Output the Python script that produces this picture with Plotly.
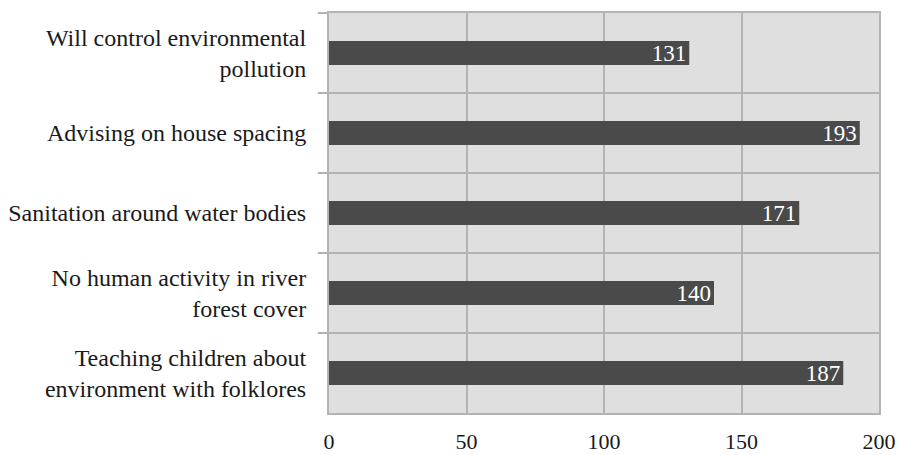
import plotly.graph_objects as go

categories = [
    "Will control environmental<br>pollution",
    "Advising on house spacing",
    "Sanitation around water bodies",
    "No human activity in river<br>forest cover",
    "Teaching children about<br>environment with folklores",
]
values = [131, 193, 171, 140, 187]
x_ticks = [0, 50, 100, 150, 200]

FONT = "Liberation Serif"
GRID = "#b3b3b3"

fig = go.Figure(
    go.Bar(
        x=values,
        y=categories,
        orientation="h",
        width=0.3,
        marker=dict(color="#4a4a4a", line=dict(width=0)),
        text=[str(v) for v in values],
        textposition="inside",
        insidetextanchor="end",
        textfont=dict(family=FONT, size=23, color="white"),
        cliponaxis=False,
    )
)

fig.update_layout(
    width=897,
    height=455,
    margin=dict(l=329, r=18, t=13, b=42),
    paper_bgcolor="white",
    plot_bgcolor="#dfdfdf",
    showlegend=False,
    font=dict(family=FONT, size=23, color="#1a1a1a"),
    uniformtext=dict(minsize=23, mode="show"),
)

fig.update_xaxes(
    range=[0, 200],
    tickvals=x_ticks,
    ticktext=[str(t) for t in x_ticks],
    showgrid=True,
    gridcolor=GRID,
    gridwidth=2,
    zeroline=False,
    showline=True,
    linecolor=GRID,
    linewidth=2,
    mirror=True,
    ticks="",
    automargin=False,
    ticklabelstandoff=8,
    tickfont=dict(family=FONT, size=22, color="#1a1a1a"),
)

fig.update_yaxes(
    categoryorder="array",
    categoryarray=categories,
    autorange="reversed",
    tickson="boundaries",
    ticks="outside",
    ticklen=9,
    tickwidth=2,
    tickcolor=GRID,
    showgrid=True,
    gridcolor=GRID,
    gridwidth=2,
    showline=True,
    linecolor=GRID,
    linewidth=2,
    mirror=True,
    automargin=False,
    ticklabelstandoff=16,
    tickfont=dict(family=FONT, size=24, color="#1a1a1a"),
)

fig.write_html(
    "out.html",
    config={"displayModeBar": False},
    post_script="document.body.style.margin='0';document.body.style.padding='0';",
)
